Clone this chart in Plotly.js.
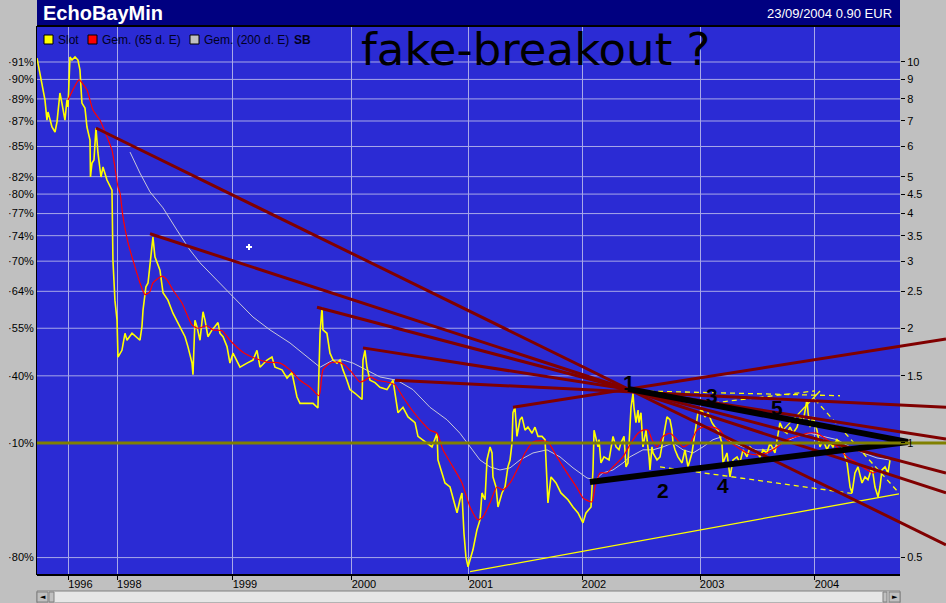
<!DOCTYPE html>
<html>
<head>
<meta charset="utf-8">
<script src="https://cdn.plot.ly/plotly-3.0.1.min.js"></script>
<style>html,body{margin:0;padding:0;background:#c0c0c0;}#chart{width:946px;height:603px;}</style>
</head>
<body>
<div id="chart"></div>
<script>
// ---------- DATA ----------
// x values are positions on the chart's time scale (decimal years), y values are prices (EUR)
const priceX = [
1997.325,1997.350,1997.368,1997.393,1997.410,1997.419,1997.453,1997.479,1997.496,1997.521,
1997.538,1997.564,1997.581,1997.590,1997.607,1997.624,1997.650,1997.675,1997.692,1997.709,
1997.735,1997.752,1997.778,1997.782,1997.795,1997.812,1997.829,1997.846,1997.872,1997.889,
1997.923,1997.949,1997.966,1997.974,1997.991,1998.009,1998.017,1998.051,1998.077,1998.094,
1998.137,1998.205,1998.222,1998.231,1998.256,1998.274,1998.308,1998.316,1998.333,1998.350,
1998.376,1998.402,1998.444,1998.487,1998.530,1998.564,1998.590,1998.615,1998.650,1998.658,
1998.675,1998.692,1998.718,1998.744,1998.761,1998.786,1998.821,1998.846,1998.872,1998.889,
1998.915,1998.949,1998.974,1999.000,1999.060,1999.120,1999.171,1999.205,1999.231,1999.291,
1999.333,1999.359,1999.419,1999.462,1999.504,1999.547,1999.573,1999.632,1999.684,1999.726,
1999.744,1999.761,1999.769,1999.803,1999.829,1999.855,1999.889,1999.915,1999.940,1999.974,
2000.000,2000.043,2000.103,2000.111,2000.128,2000.145,2000.171,2000.214,2000.256,2000.316,
2000.368,2000.410,2000.453,2000.496,2000.556,2000.581,2000.615,2000.658,2000.701,2000.744,
2000.752,2000.786,2000.812,2000.855,2000.880,2000.915,2000.940,2000.957,2000.974,2000.991,
2001.009,2001.026,2001.051,2001.085,2001.111,2001.128,2001.154,2001.171,2001.197,2001.214,
2001.222,2001.248,2001.265,2001.299,2001.325,2001.350,2001.368,2001.385,2001.393,2001.410,
2001.427,2001.453,2001.470,2001.496,2001.521,2001.556,2001.581,2001.607,2001.641,2001.667,
2001.684,2001.692,2001.718,2001.761,2001.803,2001.863,2001.906,2001.949,2001.991,2002.017,
2002.060,2002.077,2002.086,2002.120,2002.128,2002.145,2002.171,2002.214,2002.248,2002.274,
2002.299,2002.316,2002.342,2002.359,2002.376,2002.402,2002.419,2002.427,2002.444,2002.462,
2002.470,2002.487,2002.504,2002.530,2002.556,2002.564,2002.581,2002.590,2002.624,2002.650,
2002.675,2002.709,2002.735,2002.752,2002.761,2002.778,2002.803,2002.838,2002.863,2002.889,
2002.923,2002.949,2002.974,2003.009,2003.034,2003.060,2003.094,2003.120,2003.145,2003.179,
2003.188,2003.222,2003.248,2003.274,2003.308,2003.333,2003.359,2003.393,2003.419,2003.444,
2003.479,2003.504,2003.530,2003.564,2003.590,2003.632,2003.675,2003.701,2003.735,2003.761,
2003.786,2003.821,2003.846,2003.872,2003.906,2003.915,2003.932,2003.957,2003.991,2004.017,
2004.043,2004.077,2004.103,2004.128,2004.162,2004.188,2004.214,2004.248,2004.274,2004.291,
2004.316,2004.342,2004.376,2004.402,2004.427,2004.462,2004.487,2004.513,2004.530,2004.547,
2004.573,2004.598,2004.615];
const priceY = [
10.24,9.36,8.60,7.95,7.04,7.39,6.75,6.55,6.96,8.29,
7.80,7.04,7.95,7.62,10.31,10.12,10.31,10.12,9.53,7.80,
7.57,6.75,6.24,4.99,5.43,5.53,6.71,5.77,4.99,5.30,
4.90,4.70,4.61,3.02,2.37,2.10,1.68,1.75,1.94,1.86,
1.94,1.86,2.02,2.23,2.57,2.63,3.35,3.47,3.08,2.97,
2.84,2.48,2.37,2.19,2.07,1.98,1.90,1.79,1.62,1.51,
2.10,2.02,1.86,2.21,2.10,1.90,1.98,2.02,2.07,1.94,
1.90,1.79,1.62,1.72,1.58,1.62,1.65,1.75,1.58,1.65,
1.68,1.58,1.555,1.48,1.53,1.32,1.27,1.27,1.27,1.235,
1.94,2.27,1.98,1.94,1.72,1.65,1.62,1.65,1.555,1.46,
1.38,1.35,1.30,1.65,1.75,1.58,1.46,1.44,1.40,1.38,
1.46,1.20,1.24,1.17,1.13,1.04,1.02,1.00,0.976,1.06,
0.902,0.834,0.785,0.766,0.722,0.655,0.709,0.739,0.580,0.502,
0.473,0.493,0.524,0.591,0.628,0.739,0.709,0.902,0.976,0.941,
0.814,0.766,0.679,0.739,0.766,0.865,0.902,1.00,1.20,1.24,
1.04,1.15,1.17,1.08,1.10,1.06,1.10,1.04,1.04,1.02,
0.80,0.696,0.814,0.785,0.739,0.709,0.679,0.655,0.617,0.655,
0.679,0.849,1.08,0.976,1.02,0.886,0.919,0.902,1.04,0.976,
0.959,1.00,1.04,0.865,0.886,1.24,1.35,1.24,1.13,1.22,
1.13,1.20,0.976,1.08,0.919,0.849,0.976,0.941,0.902,0.919,
1.02,1.17,1.15,1.08,1.00,0.959,0.919,0.886,0.959,0.865,
0.941,1.08,1.20,1.22,1.17,1.20,1.13,1.10,1.08,1.00,
0.886,0.941,0.814,0.902,0.919,0.886,0.959,0.919,0.976,0.959,
0.941,0.919,0.959,0.941,1.00,0.941,1.13,1.08,1.06,1.10,
1.06,1.10,1.17,1.13,1.30,1.20,1.10,1.17,1.08,0.976,
1.02,0.959,1.00,0.976,1.02,1.00,0.959,0.886,0.766,0.739,
0.834,0.865,0.785,0.814,0.80,0.865,0.766,0.722,0.766,0.849,
0.865,0.834,0.90];

const ma65X = [
1997.590,1997.641,1997.684,1997.752,1997.803,1997.863,1997.923,1997.966,1997.991,1998.017,
1998.034,1998.060,1998.103,1998.145,1998.205,1998.248,1998.291,1998.316,1998.393,1998.436,
1998.487,1998.564,1998.650,1998.701,1998.778,1998.829,1998.906,1998.974,1999.085,1999.205,
1999.291,1999.402,1999.487,1999.573,1999.658,1999.735,1999.769,1999.829,1999.897,1999.957,
2000.017,2000.085,2000.128,2000.171,2000.231,2000.316,2000.385,2000.453,2000.530,2000.598,
2000.684,2000.744,2000.795,2000.880,2000.957,2001.026,2001.094,2001.137,2001.197,2001.256,
2001.308,2001.368,2001.427,2001.496,2001.564,2001.650,2001.692,2001.769,2001.855,2001.940,
2001.992,2002.068,2002.094,2002.137,2002.197,2002.248,2002.333,2002.402,2002.462,2002.504,
2002.547,2002.581,2002.624,2002.675,2002.735,2002.795,2002.846,2002.906,2002.966,2003.017,
2003.103,2003.162,2003.222,2003.308,2003.393,2003.479,2003.564,2003.650,2003.735,2003.821,
2003.906,2003.991,2004.077,2004.162,2004.248,2004.333,2004.419,2004.470,2004.530];
const ma65Y = [
7.95,8.55,8.97,8.44,7.48,7.04,6.36,5.87,5.30,4.70,
4.53,3.92,3.35,3.02,2.63,2.45,2.50,2.63,2.74,2.68,
2.52,2.33,2.04,2.00,2.03,1.98,1.97,1.86,1.73,1.66,
1.63,1.62,1.555,1.46,1.40,1.33,1.555,1.62,1.63,1.60,
1.53,1.445,1.46,1.49,1.46,1.445,1.42,1.32,1.22,1.15,
1.08,1.06,0.959,0.865,0.785,0.679,0.628,0.64,0.696,0.766,
0.753,0.785,0.849,0.941,1.006,1.012,1.006,0.919,0.834,0.762,
0.717,0.70,0.766,0.834,0.834,0.865,0.919,1.00,1.06,1.08,
1.08,1.02,0.976,1.04,1.06,1.02,0.976,1.00,1.08,1.10,
1.10,1.08,1.02,0.976,0.941,0.930,0.941,0.976,1.02,1.04,
1.06,1.06,1.02,0.976,0.919,0.886,0.849,0.834,0.849];

const ma200X = [
1998.120,1998.205,1998.291,1998.402,1998.521,1998.632,1998.718,1998.863,1999.000,1999.171,
1999.316,1999.487,1999.632,1999.744,1999.855,1999.940,2000.026,2000.145,2000.256,2000.402,
2000.538,2000.684,2000.829,2000.940,2001.026,2001.111,2001.197,2001.282,2001.368,2001.453,
2001.564,2001.684,2001.795,2001.906,2002.026,2002.094,2002.162,2002.248,2002.333,2002.393,
2002.504,2002.590,2002.675,2002.761,2002.846,2002.932,2003.017,2003.103,2003.188,2003.274,
2003.359,2003.479,2003.590,2003.701,2003.821,2003.932,2004.043,2004.162,2004.274,2004.385,
2004.504,2004.615];
const ma200Y = [
5.80,5.11,4.56,4.14,3.62,3.21,2.97,2.68,2.42,2.14,
1.98,1.83,1.68,1.58,1.65,1.65,1.62,1.555,1.49,1.46,
1.38,1.24,1.15,1.06,0.976,0.902,0.865,0.849,0.86,0.902,
0.941,0.959,0.919,0.86,0.809,0.80,0.834,0.849,0.886,0.919,
0.959,0.959,0.976,1.00,0.959,0.941,0.976,1.02,1.04,1.00,
0.976,0.959,0.959,1.00,1.04,1.06,1.04,1.02,0.976,0.941,
0.913,0.902];

// dark red resistance lines (start -> end)
const redLineX0 = [1997.829, 1998.291, 1999.718, 2000.111, 2000.385, 2001.393];
const redLineY0 = [6.71, 3.54, 2.27, 1.776, 1.46, 1.24];
const redLineX1 = [2005.094, 2005.094, 2005.094, 2005.094, 2005.094, 2005.094];
const redLineY1 = [0.540, 0.739, 0.834, 1.024, 1.24, 1.875];

// black triangle lines
const blackLineX0 = [2002.376, 2002.051];
const blackLineY0 = [1.386, 0.790];
const blackLineX1 = [2004.769, 2004.769];
const blackLineY1 = [1.006, 1.006];

// thin yellow solid lines
const yellowLineX0 = [2001.026, 2003.701];
const yellowLineY0 = [0.459, 1.08];
const yellowLineX1 = [2004.692, 2004.017];
const yellowLineY1 = [0.735, 1.369];

// thin yellow dashed lines
const dashLineX0 = [2002.479, 2003.034, 2002.650, 2003.974];
const dashLineY0 = [1.369, 1.266, 0.865, 1.30];
const dashLineX1 = [2004.188, 2003.974, 2004.316, 2004.692];
const dashLineY1 = [1.33, 1.369, 0.735, 0.739];

// horizontal level line
const levelPrice = [1.0];
const cursorX = [1999.137];
const cursorY = [3.27];

// axes
const xRange = [1997.325, 2005.094];
const yRange = [0.45, 12.43];
const xTickVals = [1997.593, 1998.011, 1999.000, 2000.017, 2001.017, 2001.983, 2002.992, 2003.974];
const xTickText = ['1996','1998','1999','2000','2001','2002','2003','2004'];
const yTickVals = [10, 9, 8, 7, 6, 5, 4.5, 4, 3.5, 3, 2.5, 2, 1.5, 1, 0.5];
const yLeftText = ['·91%','·90%','·89%','·87%','·85%','·82%','·80%','·77%','·74%','·70%','·64%','·55%','·40%','·10%','·80%'];
const yRightText = ['10','9','8','7','6','5','4.5','4','3.5','3','2.5','2','1.5','1','0.5'];

// texts
const chartTitle = 'EchoBayMin';
const dateText = '23/09/2004 0.90 EUR';
const bigNote = 'fake-breakout ?';
const legendNames = ['Slot', 'Gem. (65 d. E)', 'Gem. (200 d. E)'];
const legendColors = ['#ffff00', '#ff0000', '#c0c0c0'];
const waveLabels = ['1','2','3','4','5'];

// ---------- BUILD ----------
function segs(x0, y0, x1, y1) {
  const x = [], y = [];
  for (let i = 0; i < x0.length; i++) {
    x.push(x0[i], x1[i], null);
    y.push(y0[i], y1[i], null);
  }
  return {x, y};
}
const red = segs(redLineX0, redLineY0, redLineX1, redLineY1);
const blk = segs(blackLineX0, blackLineY0, blackLineX1, blackLineY1);
const yel = segs(yellowLineX0, yellowLineY0, yellowLineX1, yellowLineY1);
const dsh = segs(dashLineX0, dashLineY0, dashLineX1, dashLineY1);

const FONT = 'Liberation Sans, Arial, sans-serif';
const traces = [
  {x: ma200X, y: ma200Y, type: 'scatter', mode: 'lines', line: {color: '#c8c8d8', width: 1}, name: legendNames[2]},
  {x: priceX, y: priceY, type: 'scatter', mode: 'lines', line: {color: '#ffff00', width: 1.6}, name: legendNames[0]},
  {x: ma65X, y: ma65Y, type: 'scatter', mode: 'lines', line: {color: '#ff0000', width: 1.2, shape: 'spline', smoothing: 0.6}, name: legendNames[1]},
  {x: cursorX, y: cursorY, type: 'scatter', mode: 'markers', marker: {symbol: 'cross', size: 5, color: '#ffffff'}},
  {x: [xRange[0], xRange[1]], y: [levelPrice[0], levelPrice[0]], type: 'scatter', mode: 'lines', yaxis: 'y2', line: {color: '#808000', width: 3}},
  {x: yel.x, y: yel.y, type: 'scatter', mode: 'lines', line: {color: '#ffff00', width: 1.3}},
  {x: dsh.x, y: dsh.y, type: 'scatter', mode: 'lines', line: {color: '#ffff00', width: 1.3, dash: '5px,4px'}},
  {x: red.x, y: red.y, type: 'scatter', mode: 'lines', line: {color: '#800000', width: 3}},
  {x: blk.x, y: blk.y, type: 'scatter', mode: 'lines', line: {color: '#000000', width: 6}}
];

// paper helpers (plot area: x 37..946 px, y 26..575 px)
const PX = p => (p - 37) / 909;
const PY = p => (575 - p) / 549;
const RIGHT = PX(900);

const shapes = [
  {type: 'rect', xref: 'paper', yref: 'paper', x0: RIGHT, x1: 1.0, y0: PY(603), y1: PY(0), fillcolor: '#c0c0c0', line: {width: 0}, layer: 'below'},
  {type: 'rect', xref: 'paper', yref: 'paper', x0: 0, x1: RIGHT, y0: 1, y1: PY(0), fillcolor: '#000080', line: {width: 0}, layer: 'below'},
  {type: 'line', xref: 'paper', yref: 'paper', x0: 0, x1: RIGHT, y0: 1, y1: 1, line: {color: '#000', width: 2}, layer: 'above'},
  {type: 'line', xref: 'paper', yref: 'paper', x0: 0, x1: RIGHT, y0: 0, y1: 0, line: {color: '#000', width: 2}, layer: 'above'},
  {type: 'rect', xref: 'paper', yref: 'paper', x0: 0, x1: RIGHT, y0: PY(603), y1: PY(591), fillcolor: '#e6e6e6', line: {color: '#808080', width: 1}, layer: 'above'},
  {type: 'rect', xref: 'paper', yref: 'paper', x0: 0, x1: PX(48), y0: PY(602), y1: PY(592), fillcolor: '#c0c0c0', line: {color: '#808080', width: 1}, layer: 'above'},
  {type: 'rect', xref: 'paper', yref: 'paper', x0: PX(49), x1: PX(54), y0: PY(602), y1: PY(592), fillcolor: '#c0c0c0', line: {color: '#808080', width: 1}, layer: 'above'},
  {type: 'rect', xref: 'paper', yref: 'paper', x0: PX(883), x1: PX(887), y0: PY(602), y1: PY(592), fillcolor: '#c0c0c0', line: {color: '#808080', width: 1}, layer: 'above'},
  {type: 'rect', xref: 'paper', yref: 'paper', x0: PX(889), x1: RIGHT, y0: PY(602), y1: PY(592), fillcolor: '#c0c0c0', line: {color: '#808080', width: 1}, layer: 'above'}
];
// horizontal grid lines at the tick values (stop at the chart's right edge)
yTickVals.forEach(v => {
  shapes.push({type: 'line', xref: 'paper', yref: 'y', x0: 0, x1: RIGHT, y0: v, y1: v,
    line: {color: '#a8a8e8', width: 1}, layer: 'below'});
});
// legend boxes
const legBoxX = [44, 88, 190];
legendColors.forEach((c, i) => {
  shapes.push({type: 'rect', xref: 'paper', yref: 'paper', x0: PX(legBoxX[i]), x1: PX(legBoxX[i] + 9), y0: PY(44), y1: PY(35),
    fillcolor: c, line: {color: '#000', width: 1}, layer: 'above'});
});

const annotations = [
  {xref: 'paper', yref: 'paper', x: PX(41), y: PY(13), xanchor: 'left', yanchor: 'middle', text: '<b>' + chartTitle + '</b>', showarrow: false, font: {family: FONT, size: 20, color: '#ffffff'}},
  {xref: 'paper', yref: 'paper', x: PX(894), y: PY(13), xanchor: 'right', yanchor: 'middle', text: dateText, showarrow: false, font: {family: FONT, size: 13, color: '#ffffff'}},
  {xref: 'paper', yref: 'paper', x: PX(535), y: PY(49), xanchor: 'center', yanchor: 'middle', text: bigNote, showarrow: false, font: {family: 'DejaVu Sans, sans-serif', size: 45, color: '#000000'}},
  {xref: 'paper', yref: 'paper', x: PX(292), y: PY(40), xanchor: 'left', yanchor: 'middle', text: '<b>SB</b>', showarrow: false, font: {family: FONT, size: 12, color: '#000022'}},
  {xref: 'paper', yref: 'paper', x: PX(42.5), y: PY(597), xanchor: 'center', yanchor: 'middle', text: '◄', showarrow: false, font: {family: 'DejaVu Sans', size: 7, color: '#000'}},
  {xref: 'paper', yref: 'paper', x: PX(894.5), y: PY(597), xanchor: 'center', yanchor: 'middle', text: '►', showarrow: false, font: {family: 'DejaVu Sans', size: 7, color: '#000'}}
];
const legTextX = [56, 100, 202];
legendNames.forEach((n, i) => {
  annotations.push({xref: 'paper', yref: 'paper', x: PX(legTextX[i]), y: PY(40), xanchor: 'left', yanchor: 'middle', text: n, showarrow: false,
    font: {family: FONT, size: 12, color: '#000022'}});
});
const waveX = [629, 663, 712, 723, 777];
const waveY = [382, 490, 395, 485, 407];
waveLabels.forEach((t, i) => {
  annotations.push({xref: 'paper', yref: 'paper', x: PX(waveX[i]), y: PY(waveY[i]), xanchor: 'center', yanchor: 'middle', text: '<b>' + t + '</b>', showarrow: false,
    font: {family: FONT, size: 21, color: '#000000'}});
});

const logRange = [Math.log10(yRange[0]), Math.log10(yRange[1])];
const layout = {
  width: 946, height: 603,
  margin: {l: 37, r: 0, t: 26, b: 28, pad: 0},
  paper_bgcolor: '#c0c0c0',
  plot_bgcolor: '#2b2bd4',
  showlegend: false,
  hovermode: false,
  font: {family: FONT, size: 11, color: '#000'},
  xaxis: {type: 'linear', range: xRange, tickmode: 'array', tickvals: xTickVals, ticktext: xTickText,
    showgrid: true, gridcolor: '#a8a8e8', gridwidth: 1, zeroline: false, showline: false,
    ticks: 'outside', ticklen: 4, tickcolor: '#000', ticklabelshift: 12, ticklabelstandoff: -5,
    tickfont: {family: FONT, size: 11, color: '#000'}, fixedrange: true},
  yaxis: {type: 'log', range: logRange, tickmode: 'array', tickvals: yTickVals, ticktext: yLeftText,
    showgrid: false, zeroline: false, showline: true, linecolor: '#000', linewidth: 1, ticks: '',
    tickfont: {family: FONT, size: 11, color: '#000'}, fixedrange: true},
  yaxis2: {type: 'log', range: logRange, overlaying: 'y', side: 'right', anchor: 'free', position: RIGHT,
    tickmode: 'array', tickvals: yTickVals, ticktext: yRightText, showgrid: false, zeroline: false, showline: false,
    ticks: 'outside', ticklen: 4, tickcolor: '#000', tickfont: {family: FONT, size: 11, color: '#000'}, fixedrange: true},
  shapes: shapes,
  annotations: annotations
};

Plotly.newPlot('chart', traces, layout, {staticPlot: true, displayModeBar: false});
</script>
</body>
</html>
